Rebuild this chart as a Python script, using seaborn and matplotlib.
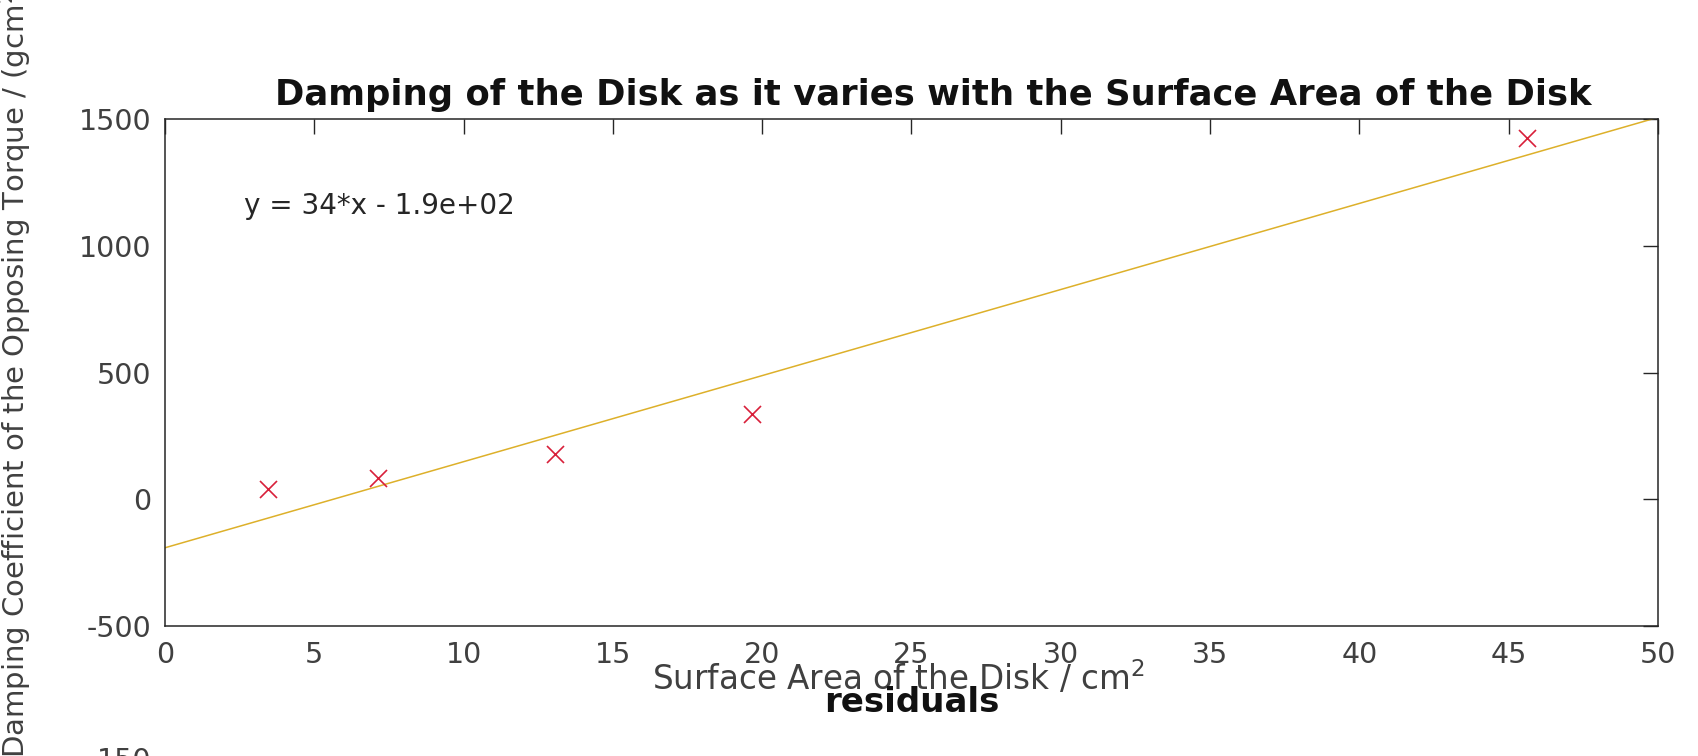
import numpy as np
import pandas as pd
import matplotlib
matplotlib.use("Agg")
import matplotlib.pyplot as plt
import seaborn as sns

# ---- data ----
surface_area = [3.45, 7.15, 13.05, 19.65, 45.6]      # cm^2
damping = [40, 82, 180, 335, 1425]                    # damping coefficient
x_ticks = [0, 5, 10, 15, 20, 25, 30, 35, 40, 45, 50]
y_ticks = [-500, 0, 500, 1000, 1500]
resid_ticks = [-150, -100, -50, 0, 50, 100, 150]

title = "Damping of the Disk as it varies with the Surface Area of the Disk"
xlabel = "Surface Area of the Disk / cm$^2$"
ylabel = "Damping Coefficient of the Opposing Torque / (gcm$^2$s$^{-1}$)"

sns.set_theme(style="white")
plt.rcParams['font.family'] = ['DejaVu Sans']
plt.rcParams['mathtext.fontset'] = 'dejavusans'

W, H = 1699, 756
fig = plt.figure(figsize=(W / 100, H / 100), dpi=100)
fig.patch.set_facecolor('white')

L, R, T, B = 165, 1658, 119, 626
ax = fig.add_axes([L / W, 1 - B / H, (R - L) / W, (B - T) / H])

df = pd.DataFrame({"area": surface_area, "damping": damping})
slope, intercept = np.polyfit(df["area"], df["damping"], 1)
xf = np.array([x_ticks[0], x_ticks[-1]], dtype=float)
fit_df = pd.DataFrame({"x": xf, "y": slope * xf + intercept})

sns.lineplot(data=fit_df, x="x", y="y", ax=ax, color="#DDB02A", linewidth=1.1)
sns.scatterplot(data=df, x="area", y="damping", ax=ax, marker="x", color="#D8203A",
                s=150, linewidth=1.2, zorder=5)

ax.set_xlim(x_ticks[0], x_ticks[-1])
ax.set_ylim(y_ticks[0], y_ticks[-1])
ax.set_xticks(x_ticks)
ax.set_yticks(y_ticks)
ax.set_xticklabels([str(v) for v in x_ticks])
ax.set_yticklabels([str(v) for v in y_ticks])

axis_col = '#262626'
for s in ax.spines.values():
    s.set_visible(True)
    s.set_color(axis_col)
    s.set_linewidth(1.1)
ax.tick_params(axis='both', direction='in', length=10.5, width=1.0, color=axis_col,
               labelcolor='#404040', labelsize=20.5, top=True, right=True)
ax.tick_params(axis='x', pad=11)
ax.tick_params(axis='y', pad=10)

ax.set_title(title, fontsize=25.5, fontweight='bold', color='#111111', pad=10, x=0.5145)
ax.set_xlabel(xlabel, fontsize=23.5, color='#404040', labelpad=-7)
ax.xaxis.label.set_x(0.491)
ax.set_ylabel(ylabel, fontsize=21, color='#404040')
ax.yaxis.label.set_ha('left')
ax.yaxis.label.set_va('center')
ax.yaxis.set_label_coords((15 - L) / (R - L), (B - 758) / (B - T))

sign = '-' if intercept < 0 else '+'
eq = f"y = {slope:.2g}*x {sign} {abs(intercept):.2g}"
ax.text(2.65, 1158, eq, fontsize=20, color='#262626', va='center', ha='left')

# ---- residuals subplot (mostly below the visible area) ----
ax2 = fig.add_axes([L / W, -0.6, (R - L) / W, 0.6 - 2 / H])
resid = df["damping"] - (slope * df["area"] + intercept)
rdf = pd.DataFrame({"area": df["area"], "resid": resid})
sns.scatterplot(data=rdf, x="area", y="resid", ax=ax2, marker="o", color="#0072BD")
ax2.set_xlim(x_ticks[0], x_ticks[-1])
ax2.set_ylim(resid_ticks[0], resid_ticks[-1])
ax2.set_yticks(resid_ticks)
ax2.set_yticklabels([str(v) for v in resid_ticks])
ax2.set_xlabel("")
ax2.set_ylabel("")
for s in ax2.spines.values():
    s.set_visible(True)
    s.set_color(axis_col)
    s.set_linewidth(1.1)
ax2.tick_params(axis='both', direction='in', length=10.5, width=1.0, color=axis_col,
                labelcolor='#404040', labelsize=20.5, top=True, right=True, pad=10,
                labelbottom=False)
ax2.set_title("residuals", fontsize=24.5, fontweight='bold', color='#111111', pad=33)

fig.savefig("out.png", dpi=100, facecolor='white')
